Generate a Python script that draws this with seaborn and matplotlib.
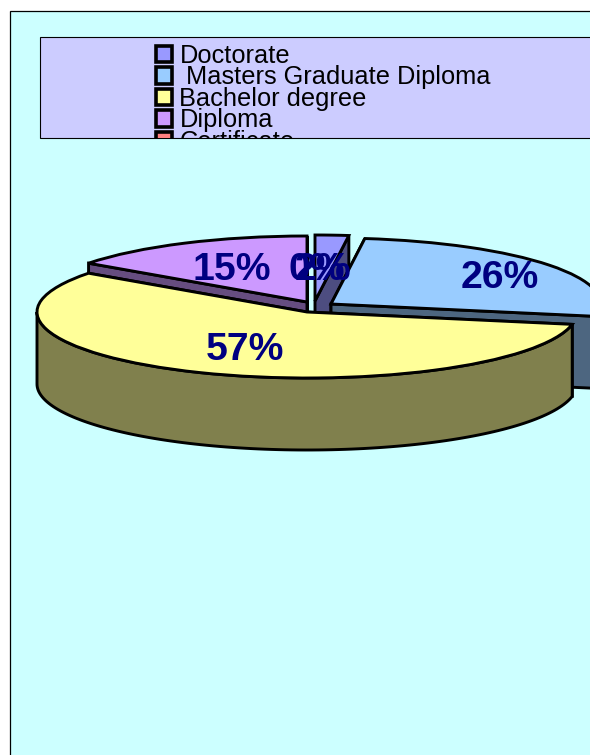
import numpy as np
import matplotlib
matplotlib.use("Agg")
import matplotlib.pyplot as plt
from matplotlib.patches import Rectangle, Patch
import seaborn as sns

categories = ["Doctorate", " Masters Graduate Diploma", "Bachelor degree", "Diploma", "Certificate"]
shares = [2, 26, 57, 15, 0]
slice_colors = ["#9999FF", "#99CCFF", "#FFFF99", "#CC99FF", "#FF8080"]

W, H = 590, 755
cx, cy = 307, 312      # pie centre in pixels
rx, ry = 270, 66       # squashed radius
depth = 72 / ry

# pixel shift of each exploded slice, and where its label goes
shifts = [(8, -11), (24, -8), (0, 0), (0, -10), (0, -10)]
label_px = [(323, 270), (500, 278), (245, 350), (232, 270), (317, 270)]
draw_order = [3, 0, 1, 2]

sns.set_theme(style="white")
plt.rcParams["font.family"] = ["Liberation Sans", "DejaVu Sans"]
palette = sns.color_palette(slice_colors)
LW = 2.1

fig = plt.figure(figsize=(W / 100, H / 100), dpi=100)
ax = fig.add_axes([0, 0, 1, 1])

wedges, _, pct = ax.pie(shares, colors=palette, startangle=90, counterclock=False,
                        radius=1, autopct="%.0f%%",
                        wedgeprops=dict(edgecolor="black", linewidth=LW))
ax.set_aspect("auto")
ax.set_xlim(-cx / rx, (W - cx) / rx)
ax.set_ylim((cy - H) / ry, cy / ry)
ax.axis("off")

def to_data(px, py):
    return (px - cx) / rx, (cy - py) / ry

def to_fig(px, py):
    return px / W, 1 - py / H

# background panel and legend box
ax.add_patch(Rectangle(to_fig(10, 770), 1, (770 - 11) / H, transform=fig.transFigure,
                       facecolor="#CCFFFF", edgecolor="black", linewidth=0.9, zorder=0, clip_on=False))
legend_box = Rectangle(to_fig(40, 137.5), 1, 100.5 / H, transform=fig.transFigure,
                       facecolor="#CCCCFF", edgecolor="black", linewidth=0.8, zorder=1)
ax.add_patch(legend_box)

# side walls of the pie, then the top of each slice
fractions = np.cumsum([0] + shares) / sum(shares) * 2 * np.pi
for rank, i in enumerate(draw_order):
    x0 = shifts[i][0] / rx
    y0 = -shifts[i][1] / ry
    t1, t2 = fractions[i], fractions[i + 1]
    wall = np.array(palette[i]) * 0.5
    base = 2 + rank * 2
    for t in (t1, t2):
        xs = [x0, x0 + np.sin(t), x0 + np.sin(t), x0]
        ys = [y0, y0 + np.cos(t), y0 + np.cos(t) - depth, y0 - depth]
        ax.fill(xs, ys, facecolor=wall, edgecolor="black", linewidth=LW, zorder=base)
    a1, a2 = max(t1, np.pi / 2), min(t2, 3 * np.pi / 2)
    if a2 > a1:
        arc = np.linspace(a1, a2, 120)
        xs = np.r_[x0 + np.sin(arc), x0 + np.sin(arc[::-1])]
        ys = np.r_[y0 + np.cos(arc), y0 + np.cos(arc[::-1]) - depth]
        ax.fill(xs, ys, facecolor=wall, edgecolor="black", linewidth=LW, zorder=base + 0.5)
    wedges[i].set_center((x0, y0))
    wedges[i].set_zorder(base + 1)

wedges[4].set_visible(False)

for t, p in zip(pct, label_px):
    t.set_position(to_data(*p))
    t.set_ha("center")
    t.set_va("center")
    t.set_color("#000080")
    t.set_fontsize(28.2)
    t.set_fontweight("bold")
    t.set_zorder(20)

handles = [Patch(facecolor=c, edgecolor="black", linewidth=2.6) for c in palette]
leg = ax.legend(handles, categories, loc="upper left", bbox_to_anchor=to_fig(156, 44),
                bbox_transform=fig.transFigure, frameon=False, fontsize=18.3,
                labelspacing=-0.10, borderpad=0, borderaxespad=0,
                handlelength=0.62, handleheight=0.62, handletextpad=0.3)
leg.set_zorder(5)
for artist in leg.get_texts() + leg.get_patches():
    artist.set_clip_on(True)
    artist.set_clip_path(legend_box)
for text in leg.get_texts():
    text.set_color("black")

fig.savefig("out.png", dpi=100, facecolor="white")
